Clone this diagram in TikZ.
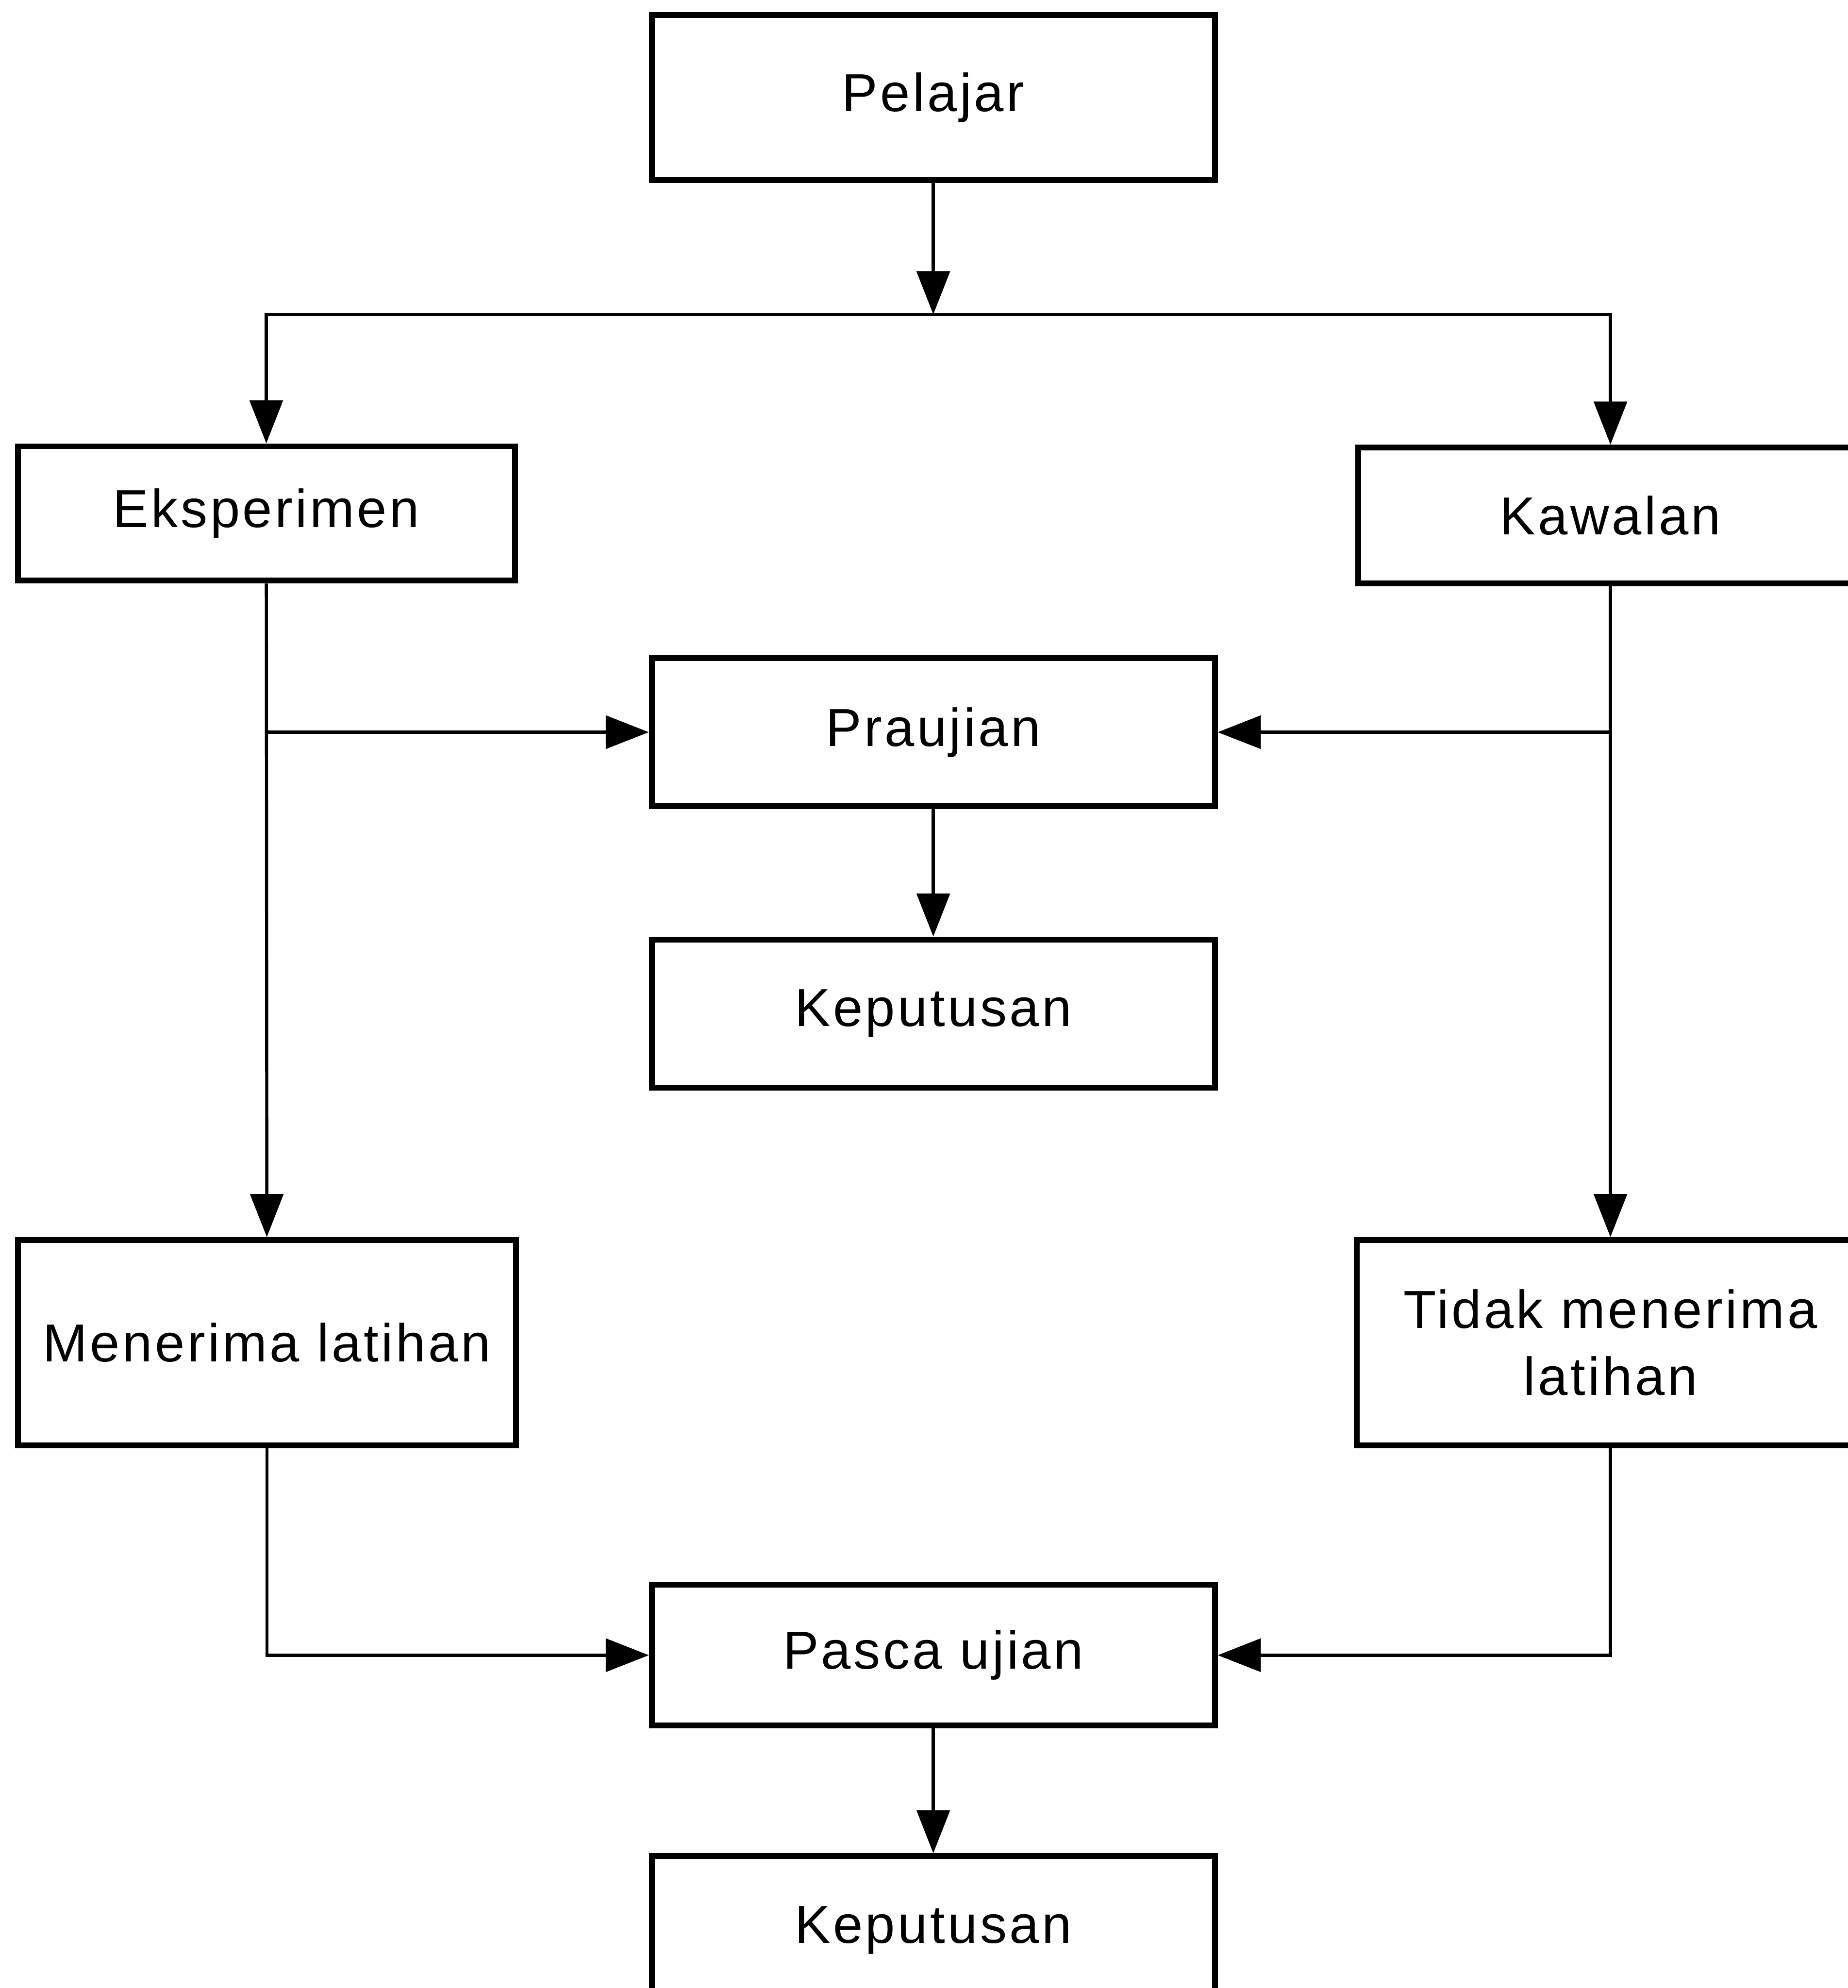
\documentclass[tikz,border=0pt]{standalone}
\usepackage{fontspec}
\setmainfont{Liberation Sans}[LetterSpace=5]
\usepackage{tikz}
\usetikzlibrary{arrows.meta}
\tikzstyle{box}=[draw, line width=1.3pt, inner sep=0pt, align=center, font=\fontsize{12}{15}\selectfont]
\tikzstyle{link}=[line width=0.7pt, -{Triangle[length=3.4mm, width=2.6mm]}]

\begin{document}
\begin{tikzpicture}
				\useasboundingbox (0,0) rectangle (14.57,-15.68);
				\node[box, minimum width=4.44cm, minimum height=1.30cm] (pelajar) at (7.36,-0.77) {Pelajar};
				\node[box, minimum width=3.92cm, minimum height=1.06cm] (eksperimen) at (2.10,-4.05) {Eksperimen};
				\node[box, minimum width=3.98cm, minimum height=1.07cm] (kawalan) at (12.70,-4.065) {Kawalan};
				\node[box, minimum width=4.44cm, minimum height=1.17cm] (praujian) at (7.36,-5.775) {Praujian};
				\node[box, minimum width=4.44cm, minimum height=1.17cm] (keputusanA) at (7.36,-7.995) {Keputusan};
				\node[box, minimum width=3.93cm, minimum height=1.62cm] (menerima) at (2.105,-10.59) {Menerima latihan};
				\node[box, minimum width=4.00cm, minimum height=1.62cm] (tidak) at (12.70,-10.59) {Tidak menerima\\latihan};
				\node[box, minimum width=4.44cm, minimum height=1.11cm] (pasca) at (7.36,-13.055) {Pasca ujian};
				\node[box, minimum width=4.44cm, minimum height=1.17cm] (keputusanB) at (7.36,-15.225) {Keputusan};
				\coordinate (pisah) at (7.36,-2.48);
				\draw[link] (pelajar) -- (pisah);
				\draw[link] (pisah) -| (eksperimen);
				\draw[link] (pisah) -| (kawalan);
				\draw[link] (eksperimen) -- (menerima);
				\draw[link] (eksperimen.south |- praujian.west) -- (praujian);
				\draw[link] (kawalan) -- (tidak);
				\draw[link] (kawalan.south |- praujian.east) -- (praujian);
				\draw[link] (praujian) -- (keputusanA);
				\draw[link] (menerima) |- (pasca);
				\draw[link] (tidak) |- (pasca);
				\draw[link] (pasca) -- (keputusanB);
			\end{tikzpicture}
\end{document}
